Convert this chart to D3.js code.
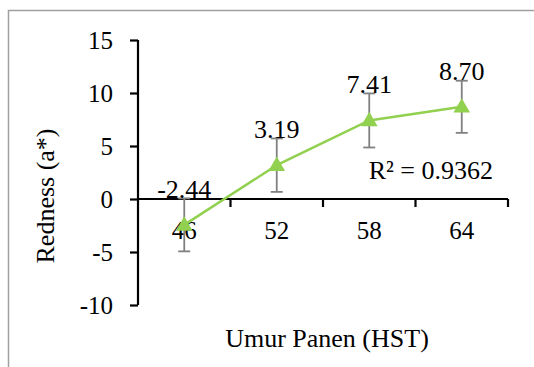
<!DOCTYPE html>
<html>
<head>
<meta charset="utf-8">
<script src="https://cdn.jsdelivr.net/npm/d3@7"></script>
<style>
  body { margin: 0; background: #fff; }
</style>
</head>
<body>
<svg width="534" height="367"></svg>
<script>
var svg = d3.select("svg"),
	width = +svg.attr("width"),
	height = +svg.attr("height");

var serif = "'Liberation Serif'";

//chart data
var categories = ["46", "52", "58", "64"];
var redness = [-2.44, 3.19, 7.41, 8.70];
var errors = [2.5, 2.52, 2.55, 2.46];
var yTicks = [-10, -5, 0, 5, 10, 15];
var r2Label = "R² = 0.9362";

//outer frame
svg.append("rect")
	.attr("x", 8.5)
	.attr("y", 10.5)
	.attr("width", 600)
	.attr("height", 400)
	.attr("fill", "none")
	.attr("stroke", "#a0a0a0")
	.attr("stroke-width", 1.5);

//scales
var x = d3.scaleBand()
	.domain(categories)
	.range([138, 508]);

var y = d3.scaleLinear()
	.domain([-10, 15])
	.range([305, 40]);

//y axis
var yAxis = svg.append("g")
	.attr("transform", "translate(138,0)")
	.call(d3.axisLeft(y)
		.tickValues(yTicks)
		.tickSize(8)
		.tickPadding(17)
		.tickFormat(function (d) { return String(d); }));

yAxis.attr("font-family", null).attr("font-size", null);
yAxis.select(".domain").attr("stroke", "#000").attr("stroke-width", 2.2)
	.attr("d", "M0," + y(-10) + "V" + y(15));
yAxis.selectAll(".tick line").attr("stroke", "#000").attr("stroke-width", 2.2);
yAxis.selectAll(".tick text")
	.style("font-family", serif)
	.style("font-size", "25px")
	.attr("fill", "#000")
	.attr("dy", "0.33em");

//x axis along zero line, ticks at category boundaries
var xAxis = svg.append("g");
xAxis.append("line")
	.attr("x1", x.range()[0])
	.attr("x2", x.range()[1])
	.attr("y1", y(0))
	.attr("y2", y(0))
	.attr("stroke", "#000")
	.attr("stroke-width", 2.2);

xAxis.selectAll(".xtick")
	.data(categories)
	.enter().append("line")
	.attr("x1", function (d) { return x(d) + x.bandwidth(); })
	.attr("x2", function (d) { return x(d) + x.bandwidth(); })
	.attr("y1", y(0))
	.attr("y2", y(0) + 8)
	.attr("stroke", "#000")
	.attr("stroke-width", 2.2);

xAxis.selectAll(".xlabel")
	.data(categories)
	.enter().append("text")
	.attr("x", function (d) { return x(d) + x.bandwidth() / 2; })
	.attr("y", 239)
	.attr("text-anchor", "middle")
	.style("font-family", serif)
	.style("font-size", "25px")
	.text(function (d) { return d; });

//error bars
var eb = svg.append("g").attr("stroke", "#808080").attr("stroke-width", 1.8);
categories.forEach(function (c, i) {
	var cx = x(c) + x.bandwidth() / 2;
	var top = y(redness[i] + errors[i]),
		bot = y(redness[i] - errors[i]);
	eb.append("line").attr("x1", cx).attr("x2", cx).attr("y1", top).attr("y2", bot);
	eb.append("line").attr("x1", cx - 6).attr("x2", cx + 6).attr("y1", top).attr("y2", top);
	eb.append("line").attr("x1", cx - 6).attr("x2", cx + 6).attr("y1", bot).attr("y2", bot);
});

//series line
var line = d3.line()
	.x(function (d, i) { return x(categories[i]) + x.bandwidth() / 2; })
	.y(function (d) { return y(d); });

svg.append("path")
	.datum(redness)
	.attr("d", line)
	.attr("fill", "none")
	.attr("stroke", "#92d050")
	.attr("stroke-width", 2.5);

//triangle markers
svg.selectAll(".marker")
	.data(redness)
	.enter().append("path")
	.attr("d", d3.symbol(d3.symbolTriangle, 120))
	.attr("transform", function (d, i) {
		return "translate(" + (x(categories[i]) + x.bandwidth() / 2) + "," + (y(d) + 1) + ")";
	})
	.attr("fill", "#92d050");

//data labels
svg.selectAll(".dlabel")
	.data(redness)
	.enter().append("text")
	.attr("x", function (d, i) { return x(categories[i]) + x.bandwidth() / 2; })
	.attr("y", function (d) { return y(d) - 27; })
	.attr("text-anchor", "middle")
	.style("font-family", serif)
	.style("font-size", "26px")
	.text(function (d) { return d.toFixed(2); });

//R squared label
svg.append("text")
	.attr("x", 493)
	.attr("y", 179)
	.attr("text-anchor", "end")
	.style("font-family", serif)
	.style("font-size", "26px")
	.text(r2Label);

//axis titles
svg.append("text")
	.attr("x", 327)
	.attr("y", 347)
	.attr("text-anchor", "middle")
	.style("font-family", serif)
	.style("font-size", "26px")
	.text("Umur Panen (HST)");

svg.append("text")
	.attr("transform", "translate(54,196) rotate(-90)")
	.attr("text-anchor", "middle")
	.style("font-family", serif)
	.style("font-size", "26px")
	.text("Redness (a*)");
</script>
</body>
</html>
